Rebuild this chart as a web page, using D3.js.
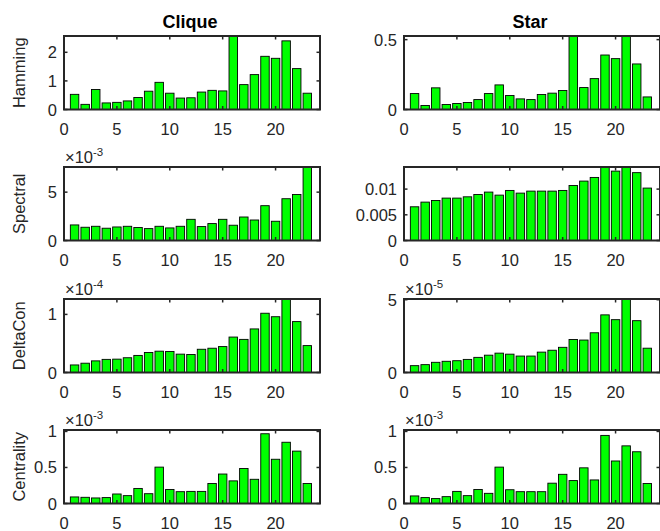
<!DOCTYPE html>
<html lang="en">
<head>
  <meta charset="UTF-8">
  <title>Clique vs Star distances</title>
  <script src="https://d3js.org/d3.v7.min.js"></script>
  <style>
    body { margin: 0; background: #fff; }
    svg { display: block; font-family: "Liberation Sans", Arial, sans-serif; }
    .tick-label { font-size: 16.5px; fill: #262626; }
    .ylab { font-size: 16.5px; fill: #262626; }
    .title { font-size: 18px; font-weight: bold; fill: #000; }
  </style>
</head>
<body>
  <svg id="chart" width="660" height="531"></svg>
  <script>
    // x positions of the bars
    const categories = d3.range(1, 24);
    const xTicks = [0, 5, 10, 15, 20];

    const columnTitles = ["Clique", "Star"];
    const rowLabels = ["Hamming", "Spectral", "DeltaCon", "Centrality"];

    // values (mantissa; exponent is kept per panel)
    const hammingClique = [0.53, 0.18, 0.70, 0.23, 0.25, 0.30, 0.42, 0.64, 0.95, 0.57, 0.40, 0.41,
      0.61, 0.67, 0.65, 2.65, 0.87, 1.22, 1.86, 1.79, 2.40, 1.43, 0.57];
    const hammingStar = [0.114, 0.029, 0.155, 0.036, 0.043, 0.050, 0.071, 0.114, 0.176, 0.100, 0.076, 0.071,
      0.107, 0.117, 0.136, 0.54, 0.157, 0.221, 0.390, 0.364, 0.54, 0.326, 0.090];
    const spectralClique = [1.61, 1.37, 1.47, 1.27, 1.40, 1.47, 1.34, 1.23, 1.47, 1.30, 1.47, 2.19,
      1.44, 1.75, 2.19, 1.58, 2.43, 2.12, 3.60, 1.99, 4.32, 4.76, 7.70];
    const spectralStar = [0.00656, 0.00747, 0.00779, 0.00825, 0.00825, 0.00850, 0.00896, 0.00942, 0.00883,
      0.00974, 0.00922, 0.00961, 0.00961, 0.00961, 0.00974, 0.0107, 0.01156, 0.01227, 0.0145,
      0.0135, 0.0145, 0.0132, 0.0102];
    const deltaConClique = [0.13, 0.16, 0.20, 0.226, 0.23, 0.254, 0.294, 0.345, 0.367, 0.362, 0.316, 0.31,
      0.40, 0.418, 0.446, 0.61, 0.57, 0.75, 1.02, 0.96, 1.30, 0.876, 0.463];
    const deltaConStar = [0.47, 0.54, 0.70, 0.77, 0.81, 0.90, 1.04, 1.19, 1.33, 1.26, 1.13, 1.13,
      1.40, 1.53, 1.73, 2.27, 2.23, 2.73, 3.96, 3.63, 5.10, 3.56, 1.67];
    const centralityClique = [0.091, 0.086, 0.077, 0.082, 0.132, 0.109, 0.209, 0.136, 0.505, 0.195, 0.164, 0.168,
      0.168, 0.277, 0.409, 0.314, 0.486, 0.336, 0.968, 0.614, 0.85, 0.727, 0.277];
    const centralityStar = [0.105, 0.082, 0.068, 0.095, 0.168, 0.109, 0.195, 0.141, 0.505, 0.191, 0.164, 0.164,
      0.164, 0.282, 0.405, 0.318, 0.495, 0.327, 0.945, 0.59, 0.80, 0.718, 0.277];

    // y tick values per panel
    const hammingCliqueTicks = [0, 1, 2];
    const hammingStarTicks = [0, 0.5];
    const spectralCliqueTicks = [0, 5];
    const spectralStarTicks = [0, 0.005, 0.01];
    const deltaConCliqueTicks = [0, 1];
    const deltaConStarTicks = [0, 5];
    const centralityTicks = [0, 0.5, 1];

    const panels = [
      { row: 0, col: 0, values: hammingClique, ymax: 2.57, ticks: hammingCliqueTicks, exp: null },
      { row: 0, col: 1, values: hammingStar, ymax: 0.526, ticks: hammingStarTicks, exp: null },
      { row: 1, col: 0, values: spectralClique, ymax: 7.6, ticks: spectralCliqueTicks, exp: -3 },
      { row: 1, col: 1, values: spectralStar, ymax: 0.0143, ticks: spectralStarTicks, exp: null },
      { row: 2, col: 0, values: deltaConClique, ymax: 1.265, ticks: deltaConCliqueTicks, exp: -4 },
      { row: 2, col: 1, values: deltaConStar, ymax: 5.05, ticks: deltaConStarTicks, exp: -5 },
      { row: 3, col: 0, values: centralityClique, ymax: 1.02, ticks: centralityTicks, exp: -3 },
      { row: 3, col: 1, values: centralityStar, ymax: 1.02, ticks: centralityTicks, exp: -3 }
    ];

    const colX = [64, 404];
    const rowY = [36, 167, 299, 430];
    const plotW = 256;
    const plotH = 73.5;
    const axisColor = "#262626";
    const tickLen = 3.5;

    const svg = d3.select("#chart");

    panels.forEach((p, i) => {
      const left = colX[p.col];
      const top = rowY[p.row];

      const x = d3.scaleLinear().domain([0, 24.2]).range([0, plotW]);
      const y = d3.scaleLinear().domain([0, p.ymax]).range([plotH, 0]);

      const g = svg.append("g").attr("transform", `translate(${left},${top})`);

      g.append("clipPath").attr("id", `clip${i}`)
        .append("rect").attr("x", 0).attr("y", 0).attr("width", plotW).attr("height", plotH);

      const bw = x(0.8) - x(0);
      g.append("g").attr("clip-path", `url(#clip${i})`)
        .selectAll("rect")
        .data(p.values)
        .enter()
        .append("rect")
        .attr("x", (d, j) => x(categories[j]) - bw / 2)
        .attr("y", d => y(d))
        .attr("width", bw)
        .attr("height", d => y(0) - y(d))
        .attr("fill", "#00ff00")
        .attr("stroke", "#000")
        .attr("stroke-width", 0.9);

      // inward ticks on all four sides
      xTicks.forEach(t => {
        g.append("line").attr("x1", x(t)).attr("x2", x(t)).attr("y1", plotH).attr("y2", plotH - tickLen)
          .attr("stroke", axisColor).attr("stroke-width", 1.5);
        g.append("line").attr("x1", x(t)).attr("x2", x(t)).attr("y1", 0).attr("y2", tickLen)
          .attr("stroke", axisColor).attr("stroke-width", 1.5);
        g.append("text").attr("class", "tick-label")
          .attr("x", x(t)).attr("y", plotH + 25)
          .attr("text-anchor", "middle")
          .text(t);
      });

      p.ticks.forEach(t => {
        g.append("line").attr("x1", 0).attr("x2", tickLen).attr("y1", y(t)).attr("y2", y(t))
          .attr("stroke", axisColor).attr("stroke-width", 1.5);
        g.append("line").attr("x1", plotW).attr("x2", plotW - tickLen).attr("y1", y(t)).attr("y2", y(t))
          .attr("stroke", axisColor).attr("stroke-width", 1.5);
        g.append("text").attr("class", "tick-label")
          .attr("x", -7).attr("y", y(t) + 6)
          .attr("text-anchor", "end")
          .text(t);
      });

      // box
      g.append("rect").attr("x", 0).attr("y", 0).attr("width", plotW).attr("height", plotH)
        .attr("fill", "none").attr("stroke", axisColor).attr("stroke-width", 2);

      if (p.exp !== null) {
        const ex = g.append("text").attr("class", "tick-label").attr("x", 1).attr("y", -4);
        ex.append("tspan").text("\u00d710");
        ex.append("tspan").attr("dy", -7).style("font-size", "11.5px").text(p.exp);
      }

      if (p.col === 0) {
        g.append("text").attr("class", "ylab")
          .attr("transform", `translate(-39,${plotH / 2}) rotate(-90)`)
          .attr("text-anchor", "middle")
          .text(rowLabels[p.row]);
      }
      if (p.row === 0) {
        g.append("text").attr("class", "title")
          .attr("x", plotW / 2 - 2).attr("y", -8)
          .attr("text-anchor", "middle")
          .text(columnTitles[p.col]);
      }
    });
  </script>
</body>
</html>
